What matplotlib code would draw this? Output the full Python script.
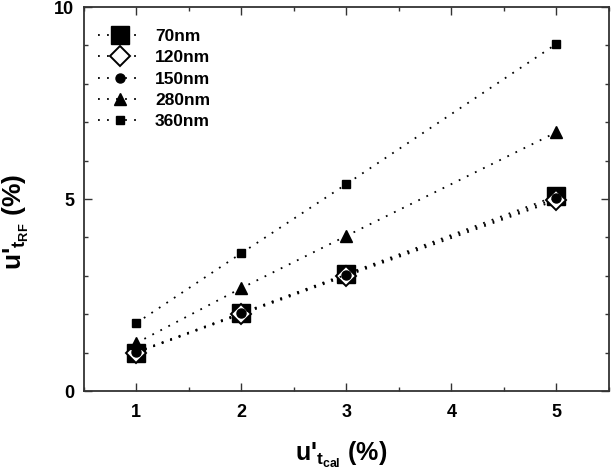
import matplotlib
matplotlib.use("Agg")
import matplotlib.pyplot as plt
from matplotlib.ticker import MultipleLocator

plt.rcParams['font.family'] = ['Liberation Sans', 'DejaVu Sans']
plt.rcParams['font.weight'] = 'bold'
plt.rcParams['mathtext.fontset'] = 'custom'
plt.rcParams['mathtext.rm'] = 'Liberation Sans:bold'
plt.rcParams['mathtext.it'] = 'Liberation Sans:bold'
plt.rcParams['mathtext.bf'] = 'Liberation Sans:bold'

x_vals = [1, 2, 3, 5]
labels = ["70nm", "120nm", "150nm", "280nm", "360nm"]
y_70 = [1.0, 2.03, 3.05, 5.08]
y_120 = [1.0, 2.0, 3.0, 4.97]
y_150 = [1.02, 2.03, 3.03, 5.02]
y_280 = [1.25, 2.68, 4.04, 6.74]
y_360 = [1.77, 3.59, 5.39, 9.04]

fig = plt.figure(figsize=(6.12, 4.72), dpi=100)
ax = fig.add_axes([0.137, 0.1716, 0.858, 0.8134])

styles = [
    dict(marker='s', ms=12.5, mfc='black', mec='black'),
    dict(marker='D', ms=10.5, mfc='white', mec='black', mew=1.4),
    dict(marker='o', ms=6.5, mfc='black', mec='black'),
    dict(marker='^', ms=8, mfc='black', mec='black'),
    dict(marker='s', ms=5.5, mfc='black', mec='black'),
]
series = [y_70, y_120, y_150, y_280, y_360]
for ys, lab, st in zip(series, labels, styles):
    ax.plot(x_vals, ys, linestyle=(0, (1, 4)), color='black', lw=1.3, label=lab, **st)

ax.set_xlim(0.5, 5.5)
ax.set_ylim(0, 10)
ax.xaxis.set_major_locator(MultipleLocator(1))
ax.xaxis.set_minor_locator(MultipleLocator(0.5))
ax.yaxis.set_major_locator(MultipleLocator(5))
ax.yaxis.set_minor_locator(MultipleLocator(1))
ax.tick_params(which='both', direction='in', top=True, right=True, width=1, color='#333333')
ax.tick_params(which='major', length=6, labelsize=13)
ax.tick_params(axis='x', which='major', pad=9)
ax.tick_params(axis='y', which='major', pad=7)
ax.tick_params(which='minor', length=3)
for sp in ax.spines.values():
    sp.set_linewidth(1.3)
    sp.set_color('#333333')

ax.set_xticks([1, 2, 3, 4, 5])
ax.set_xticklabels(['1', '2', '3', '4', '5'], fontweight='bold')
ax.set_yticks([0, 5, 10])
ax.set_yticklabels(['0', '5', '10'], fontweight='bold')

ax.set_xlabel(r"u'$_{t_{cal}}$ (%)", fontsize=18, fontweight='bold')
ax.set_ylabel(r"u'$_{t_{RF}}$ (%)", fontsize=19, fontweight='bold')
ax.xaxis.set_label_coords(0.49, -0.128)
ax.yaxis.set_label_coords(-0.1, 0.44)

leg = ax.legend(loc='upper left', bbox_to_anchor=(0.0, 0.98), frameon=False,
                handlelength=2.6, handletextpad=0.7, labelspacing=0.36,
                borderaxespad=0.4, prop={'weight': 'bold', 'size': 12.5})

fig.savefig("out.png", dpi=100)
